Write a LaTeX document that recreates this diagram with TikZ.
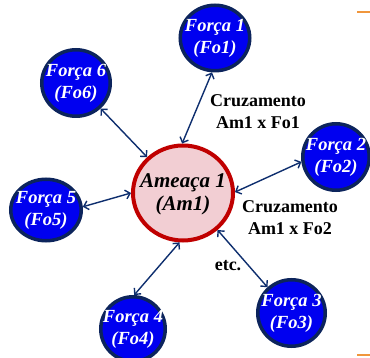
\documentclass[tikz,border=0pt]{standalone}
\usepackage{fontspec}
\setmainfont{Liberation Serif}
\usetikzlibrary{shapes.geometric,arrows.meta}

\definecolor{forcefill}{RGB}{0,0,240}
\definecolor{forceline}{RGB}{12,36,92}
\definecolor{threatfill}{RGB}{242,206,211}
\definecolor{threatline}{RGB}{192,0,0}
\definecolor{linkcol}{RGB}{14,46,110}
\definecolor{accent}{RGB}{240,150,60}

\tikzset{
  force/.style={ellipse, draw=forceline, fill=forcefill, line width=3.5pt, inner sep=0pt},
  ftext/.style={align=center, text=white, font=\fontsize{18.5}{22}\selectfont\bfseries\itshape},
  threat/.style={ellipse, draw=threatline, fill=threatfill, line width=4pt, inner sep=0pt},
  ttext/.style={align=center, text=black, font=\fontsize{21}{23}\selectfont\bfseries\itshape},
  note/.style={align=center, text=black, font=\fontsize{18}{22}\selectfont\bfseries},
  link/.style={draw=linkcol, line width=1.4pt, {Straight Barb[length=4.5pt,width=9pt]}-{Straight Barb[length=4.5pt,width=9pt]}},
  accentline/.style={draw=accent, line width=2pt}
}

\begin{document}
\begin{tikzpicture}[x=1pt,y=-1pt]
\useasboundingbox (0,0) rectangle (370,358);

% central threat
\node[threat, minimum width=100pt, minimum height=95pt] (am) at (183,193) {};
\node[ttext] (amt) at (183,194) {Ameaça 1\\(Am1)};

% surrounding forces
\node[force, minimum width=69.5pt, minimum height=65.5pt] (fo1) at (215,38) {};
\node[ftext] (fo1t) at (fo1) {Força 1\\(Fo1)};
\node[force, minimum width=66.5pt, minimum height=66.5pt] (fo2) at (336,157) {};
\node[ftext] (fo2t) at (fo2) {Força 2\\(Fo2)};
\node[force, minimum width=67.5pt, minimum height=66.5pt] (fo3) at (291.5,313) {};
\node[ftext] (fo3t) at (fo3) {Força 3\\(Fo3)};
\node[force, minimum width=64.5pt, minimum height=64.5pt] (fo4) at (133,329) {};
\node[ftext] (fo4t) at (fo4) {Força 4\\(Fo4)};
\node[force, minimum width=70.5pt, minimum height=61.5pt] (fo5) at (46,210) {};
\node[ftext] (fo5t) at (fo5) {Força 5\\(Fo5)};
\node[force, minimum width=68.5pt, minimum height=66.5pt] (fo6) at (76,83) {};
\node[ftext] (fo6t) at (fo6) {Força 6\\(Fo6)};

% crossings
\draw[link] (am.91) -- (fo1.265);
\draw[link] (am.1) -- (fo2.188);
\draw[link] (am.313) -- (fo3.133);
\draw[link] (am.266) -- (fo4.88);
\draw[link] (am.180) -- (fo5.5);
\draw[link] (am.135) -- (fo6.314);

% annotations
\node[note] (c1) at (258,111.5) {Cruzamento\\Am1 x Fo1};
\node[note] (c2) at (290,217.5) {Cruzamento\\Am1 x Fo2};
\node[note, anchor=base] (etc) at (228,271) {etc.};

% marks at the right edge
\coordinate (m1a) at (357,12);
\coordinate (m1b) at (370,12);
\coordinate (m2a) at (357,355);
\coordinate (m2b) at (370,355);
\draw[accentline] (m1a) -- (m1b);
\draw[accentline] (m2a) -- (m2b);
\end{tikzpicture}
\end{document}
